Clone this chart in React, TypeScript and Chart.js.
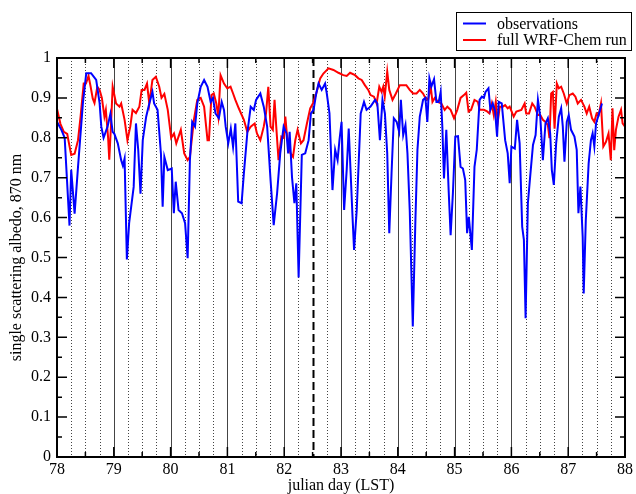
import React, { useEffect, useRef } from "react";
import { Chart, registerables } from "chart.js";

Chart.register(...registerables);

// ---- data ----
const obsDay = [
  78.0, 78.077, 78.135, 78.22, 78.25, 78.31, 78.37, 78.456, 78.515, 78.6, 78.69, 78.75, 78.78, 78.82, 78.89, 78.94, 78.98,
  79.01, 79.07, 79.13, 79.16, 79.19, 79.23, 79.27, 79.35, 79.39, 79.43, 79.47, 79.51, 79.57, 79.625, 79.68, 79.71, 79.77, 79.83, 79.86, 79.89, 79.95,
  80.02, 80.057, 80.09, 80.14, 80.2, 80.255, 80.3, 80.34, 80.38, 80.43, 80.47, 80.53, 80.59, 80.65, 80.705, 80.745, 80.79, 80.85, 80.9, 80.94, 80.97,
  81.015, 81.06, 81.1, 81.14, 81.19, 81.25, 81.29, 81.35, 81.41, 81.465, 81.505, 81.58, 81.64, 81.7, 81.76, 81.815, 81.875, 81.93, 81.99,
  82.04, 82.07, 82.096, 82.137, 82.18, 82.213, 82.254, 82.31, 82.37, 82.43, 82.47, 82.517, 82.564, 82.605, 82.66, 82.72, 82.75, 82.797, 82.85, 82.897, 82.94, 82.973,
  83.01, 83.055, 83.1, 83.136, 83.17, 83.2, 83.23, 83.277, 83.347, 83.405, 83.45, 83.52, 83.6, 83.64, 83.685, 83.73, 83.773, 83.814, 83.85, 83.89, 83.93, 83.98,
  84.024, 84.054, 84.095, 84.135, 84.17, 84.21, 84.264, 84.31, 84.346, 84.387, 84.445, 84.486, 84.52, 84.556, 84.59, 84.638, 84.68, 84.72, 84.755, 84.784, 84.813, 84.854, 84.895, 84.93, 84.97,
  85.012, 85.06, 85.105, 85.146, 85.187, 85.22, 85.25, 85.304, 85.35, 85.39, 85.44, 85.48, 85.515, 85.544, 85.596, 85.63, 85.672, 85.713, 85.748, 85.777, 85.83, 85.89, 85.935, 85.97,
  86.0, 86.06, 86.1, 86.145, 86.19, 86.22, 86.25, 86.29, 86.33, 86.38, 86.426, 86.467, 86.508, 86.554, 86.6, 86.642, 86.683, 86.712, 86.747, 86.788, 86.835, 86.876, 86.905, 86.934, 86.975,
  87.01, 87.05, 87.11, 87.15, 87.18, 87.215, 87.255, 87.273, 87.31, 87.36, 87.4, 87.43, 87.46, 87.49, 87.536, 87.595,
];
const obsAlbedo = [
  0.84, 0.82, 0.8, 0.58, 0.72, 0.61, 0.727, 0.887, 0.962, 0.962, 0.945, 0.887, 0.828, 0.8, 0.828, 0.86, 0.815,
  0.81, 0.786, 0.744, 0.73, 0.748, 0.495, 0.586, 0.677, 0.836, 0.77, 0.66, 0.794, 0.853, 0.886, 0.915, 0.886, 0.87, 0.76, 0.627, 0.752, 0.719,
  0.723, 0.611, 0.69, 0.619, 0.611, 0.586, 0.498, 0.744, 0.84, 0.828, 0.886, 0.928, 0.945, 0.928, 0.89, 0.9, 0.861, 0.849, 0.89, 0.87, 0.828,
  0.786, 0.823, 0.777, 0.836, 0.64, 0.636, 0.711, 0.811, 0.878, 0.87, 0.895, 0.911, 0.878, 0.828, 0.694, 0.581, 0.661, 0.761, 0.828,
  0.811, 0.761, 0.815, 0.702, 0.636, 0.686, 0.45, 0.757, 0.761, 0.794, 0.861, 0.87, 0.911, 0.936, 0.92, 0.936, 0.911, 0.861, 0.669, 0.77, 0.744, 0.794,
  0.84, 0.619, 0.719, 0.823, 0.711, 0.611, 0.519, 0.619, 0.861, 0.89, 0.87, 0.878, 0.895, 0.886, 0.794, 0.895, 0.861, 0.761, 0.561, 0.711, 0.849, 0.84,
  0.815, 0.895, 0.807, 0.832, 0.761, 0.619, 0.327, 0.594, 0.77, 0.853, 0.895, 0.9, 0.84, 0.949, 0.928, 0.947, 0.89, 0.89, 0.915, 0.828, 0.698, 0.82, 0.669, 0.556, 0.661,
  0.803, 0.804, 0.727, 0.723, 0.694, 0.561, 0.602, 0.519, 0.727, 0.77, 0.895, 0.903, 0.9, 0.915, 0.924, 0.87, 0.886, 0.866, 0.803, 0.89, 0.886, 0.794, 0.761, 0.686,
  0.778, 0.773, 0.845, 0.786, 0.577, 0.544, 0.348, 0.636, 0.702, 0.782, 0.807, 0.895, 0.853, 0.744, 0.836, 0.849, 0.811, 0.719, 0.682, 0.786, 0.853, 0.874, 0.828, 0.74, 0.84,
  0.857, 0.82, 0.803, 0.77, 0.611, 0.678, 0.552, 0.41, 0.594, 0.736, 0.794, 0.811, 0.778, 0.836, 0.857, 0.886,
];

const wrfDay = [
  78.0, 78.06, 78.12, 78.18, 78.2, 78.25, 78.31, 78.37, 78.415, 78.47, 78.51, 78.555, 78.59, 78.63, 78.66, 78.71, 78.75, 78.79, 78.835, 78.86, 78.9, 78.92, 78.95, 78.98,
  79.04, 79.1, 79.13, 79.19, 79.24, 79.29, 79.33, 79.39, 79.45, 79.49, 79.54, 79.585, 79.625, 79.68, 79.74, 79.8, 79.84, 79.89, 79.95,
  80.01, 80.06, 80.1, 80.18, 80.24, 80.3, 80.34, 80.41, 80.47, 80.53, 80.59, 80.65, 80.675, 80.72, 80.76, 80.805, 80.84, 80.88, 80.94, 80.997,
  81.055, 81.1, 81.14, 81.2, 81.29, 81.35, 81.41, 81.48, 81.52, 81.58, 81.64, 81.68, 81.72, 81.76, 81.8, 81.83, 81.86, 81.9, 81.95, 81.99,
  82.02, 82.05, 82.11, 82.155, 82.195, 82.236, 82.295, 82.34, 82.4, 82.458, 82.505, 82.564, 82.634, 82.69, 82.78, 82.867, 82.955,
  83.04, 83.1, 83.16, 83.247, 83.306, 83.364, 83.42, 83.48, 83.52, 83.58, 83.627, 83.674, 83.715, 83.744, 83.77, 83.814, 83.85, 83.907, 83.966,
  84.036, 84.065, 84.15, 84.21, 84.27, 84.33, 84.387, 84.445, 84.486, 84.533, 84.58, 84.61, 84.65, 84.708, 84.767, 84.825, 84.872, 84.93, 84.99,
  85.047, 85.105, 85.164, 85.205, 85.246, 85.29, 85.35, 85.41, 85.44, 85.515, 85.573, 85.614, 85.655, 85.69, 85.725, 85.76, 85.795, 85.848, 85.89, 85.935, 85.97,
  86.04, 86.087, 86.175, 86.233, 86.26, 86.31, 86.367, 86.408, 86.467, 86.508, 86.554, 86.6, 86.642, 86.67, 86.7, 86.73, 86.76, 86.8, 86.835, 86.876, 86.922, 86.975,
  87.02, 87.08, 87.127, 87.168, 87.226, 87.285, 87.326, 87.37, 87.42, 87.46, 87.5, 87.536, 87.577, 87.618, 87.665, 87.71, 87.75, 87.78, 87.81, 87.84, 87.886, 87.93, 87.958, 88.0,
];
const wrfAlbedo = [
  0.873, 0.835, 0.815, 0.81, 0.794, 0.757, 0.76, 0.794, 0.853, 0.936, 0.936, 0.955, 0.93, 0.898, 0.887, 0.928, 0.92, 0.9, 0.853, 0.87, 0.8, 0.745, 0.83, 0.928,
  0.886, 0.878, 0.886, 0.845, 0.794, 0.828, 0.87, 0.862, 0.878, 0.92, 0.92, 0.936, 0.886, 0.945, 0.953, 0.928, 0.9, 0.91, 0.87,
  0.8, 0.811, 0.786, 0.82, 0.761, 0.744, 0.752, 0.845, 0.895, 0.9, 0.878, 0.794, 0.794, 0.907, 0.911, 0.886, 0.853, 0.957, 0.936, 0.924,
  0.928, 0.911, 0.895, 0.874, 0.845, 0.815, 0.828, 0.836, 0.811, 0.794, 0.828, 0.861, 0.928, 0.828, 0.82, 0.895, 0.828, 0.744, 0.803, 0.8,
  0.853, 0.803, 0.761, 0.752, 0.794, 0.82, 0.786, 0.794, 0.836, 0.874, 0.886, 0.911, 0.949, 0.961, 0.974, 0.97, 0.963,
  0.957, 0.955, 0.963, 0.957, 0.949, 0.945, 0.932, 0.92, 0.907, 0.903, 0.886, 0.928, 0.915, 0.928, 0.903, 0.966, 0.92, 0.895, 0.911,
  0.932, 0.932, 0.932, 0.92, 0.911, 0.911, 0.92, 0.911, 0.9, 0.895, 0.928, 0.89, 0.9, 0.89, 0.886, 0.87, 0.878, 0.87, 0.849,
  0.87, 0.9, 0.907, 0.913, 0.866, 0.87, 0.895, 0.89, 0.87, 0.87, 0.866, 0.861, 0.886, 0.857, 0.89, 0.84, 0.878, 0.878, 0.882, 0.874, 0.878,
  0.853, 0.866, 0.87, 0.886, 0.861, 0.861, 0.886, 0.878, 0.857, 0.857, 0.845, 0.84, 0.832, 0.799, 0.911, 0.915, 0.823, 0.936, 0.924, 0.928, 0.911, 0.886,
  0.907, 0.911, 0.903, 0.886, 0.895, 0.878, 0.861, 0.878, 0.849, 0.84, 0.861, 0.857, 0.886, 0.778, 0.79, 0.811, 0.744, 0.874, 0.769, 0.82, 0.853, 0.87, 0.836, 0.828,
];

const seriesNames = ["observations", "full WRF-Chem run"];
const seriesColors = ["#0000ff", "#ff0000"];
const xMin = 78;
const xMax = 88;
const yMin = 0;
const yMax = 1;
const dashedDay = 82.5;
const xTitle = "julian day (LST)";
const yTitle = "single scattering albedo, 870 nm";

const FONT = "'Liberation Serif', 'Times New Roman', serif";

export default function App() {
  const ref = useRef<HTMLCanvasElement | null>(null);

  useEffect(() => {
    const canvas = ref.current;
    if (!canvas) return;

    const decorPlugin = {
      id: "decor",
      beforeDatasetsDraw(chart: any) {
        const { ctx, chartArea: a, scales } = chart;
        const x = scales.x;
        ctx.save();
        ctx.lineWidth = 1;
        for (let i = 1; i < (xMax - xMin) * 4; i++) {
          const d = xMin + i / 4;
          const px = Math.round(x.getPixelForValue(d)) + 0.5;
          ctx.beginPath();
          if (Math.abs(d - dashedDay) < 1e-6) {
            ctx.strokeStyle = "#000";
            ctx.lineWidth = 2;
            ctx.setLineDash([8, 4]);
          } else if (Math.abs(d - Math.round(d)) < 1e-6) {
            ctx.strokeStyle = "#444";
            ctx.lineWidth = 1;
            ctx.setLineDash([]);
          } else {
            ctx.strokeStyle = "#444";
            ctx.lineWidth = 1;
            ctx.setLineDash([1, 2]);
          }
          ctx.moveTo(px, a.top);
          ctx.lineTo(px, a.bottom);
          ctx.stroke();
        }
        ctx.restore();
      },
      afterDraw(chart: any) {
        const { ctx, chartArea: a, scales } = chart;
        const x = scales.x;
        const y = scales.y;
        ctx.save();
        ctx.setLineDash([]);
        ctx.strokeStyle = "#000";
        // inward ticks on y (left and right)
        ctx.lineWidth = 1.5;
        for (let k = 0; k <= 20; k++) {
          const v = yMin + (k * (yMax - yMin)) / 20;
          const py = y.getPixelForValue(v);
          const len = k % 2 === 0 ? 10 : 5;
          ctx.beginPath();
          ctx.moveTo(a.left, py);
          ctx.lineTo(a.left + len, py);
          ctx.moveTo(a.right, py);
          ctx.lineTo(a.right - len, py);
          ctx.stroke();
        }
        // inward ticks on x (bottom and top)
        for (let k = 0; k <= (xMax - xMin) * 2; k++) {
          const d = xMin + k / 2;
          const px = x.getPixelForValue(d);
          const len = k % 2 === 0 ? 10 : 5;
          ctx.beginPath();
          ctx.moveTo(px, a.bottom);
          ctx.lineTo(px, a.bottom - len);
          ctx.moveTo(px, a.top);
          ctx.lineTo(px, a.top + len);
          ctx.stroke();
        }
        // frame
        ctx.lineWidth = 2;
        ctx.strokeRect(a.left, a.top, a.right - a.left, a.bottom - a.top);

        // legend
        const lx = 456.5;
        const ly = 12.5;
        const lw = 175;
        const lh = 38;
        ctx.fillStyle = "#fff";
        ctx.fillRect(lx, ly, lw, lh);
        ctx.lineWidth = 1;
        ctx.strokeStyle = "#000";
        ctx.strokeRect(lx, ly, lw, lh);
        ctx.font = `16px ${FONT}`;
        ctx.textBaseline = "alphabetic";
        ctx.textAlign = "left";
        const rows = [23.5, 40];
        seriesNames.forEach((name, i) => {
          ctx.strokeStyle = seriesColors[i];
          ctx.lineWidth = 2;
          ctx.beginPath();
          ctx.moveTo(463, rows[i]);
          ctx.lineTo(486, rows[i]);
          ctx.stroke();
          ctx.fillStyle = "#000";
          ctx.fillText(name, 497, rows[i] + 5);
        });
        ctx.restore();
      },
    };

    const chart = new Chart(canvas, {
      type: "line",
      data: {
        datasets: [
          {
            label: seriesNames[0],
            data: obsDay.map((d, i) => ({ x: d, y: obsAlbedo[i] })),
            borderColor: seriesColors[0],
            backgroundColor: seriesColors[0],
            borderWidth: 2,
            pointRadius: 0,
            tension: 0,
            fill: false,
          },
          {
            label: seriesNames[1],
            data: wrfDay.map((d, i) => ({ x: d, y: wrfAlbedo[i] })),
            borderColor: seriesColors[1],
            backgroundColor: seriesColors[1],
            borderWidth: 2,
            pointRadius: 0,
            tension: 0,
            fill: false,
          },
        ],
      },
      options: {
        responsive: false,
        animation: false,
        devicePixelRatio: 1,
        layout: { padding: { top: 58, right: 8, left: 0, bottom: 0 } },
        plugins: {
          legend: { display: false },
          tooltip: { enabled: false },
          title: { display: false },
        },
        scales: {
          x: {
            type: "linear",
            min: xMin,
            max: xMax,
            grid: { display: false, drawTicks: false },
            border: { display: false },
            ticks: {
              stepSize: 1,
              color: "#000",
              font: { family: FONT, size: 16 },
              padding: 3,
              maxRotation: 0,
              callback: (v: any) => String(v),
            },
            title: {
              display: true,
              text: xTitle,
              color: "#000",
              font: { family: FONT, size: 16, lineHeight: 1 },
              padding: { top: 0, bottom: 0 },
            },
            afterFit: (s: any) => {
              s.height = 37;
            },
          },
          y: {
            type: "linear",
            min: yMin,
            max: yMax,
            grid: { display: false, drawTicks: false },
            border: { display: false },
            ticks: {
              stepSize: 0.1,
              color: "#000",
              font: { family: FONT, size: 16 },
              padding: 6,
              callback: (v: any) => String(Math.round(Number(v) * 10) / 10),
            },
            title: {
              display: true,
              text: yTitle,
              color: "#000",
              font: { family: FONT, size: 16, lineHeight: 1.2 },
              padding: { top: 7, bottom: 0 },
            },
            afterFit: (s: any) => {
              s.width = 57;
            },
          },
        },
      },
      plugins: [decorPlugin],
    });

    return () => chart.destroy();
  }, []);

  return (
    <div style={{ position: "fixed", left: 0, top: 0, width: 636, height: 494, background: "#fff" }}>
      <canvas ref={ref} width={636} height={494} style={{ display: "block" }} />
    </div>
  );
}
